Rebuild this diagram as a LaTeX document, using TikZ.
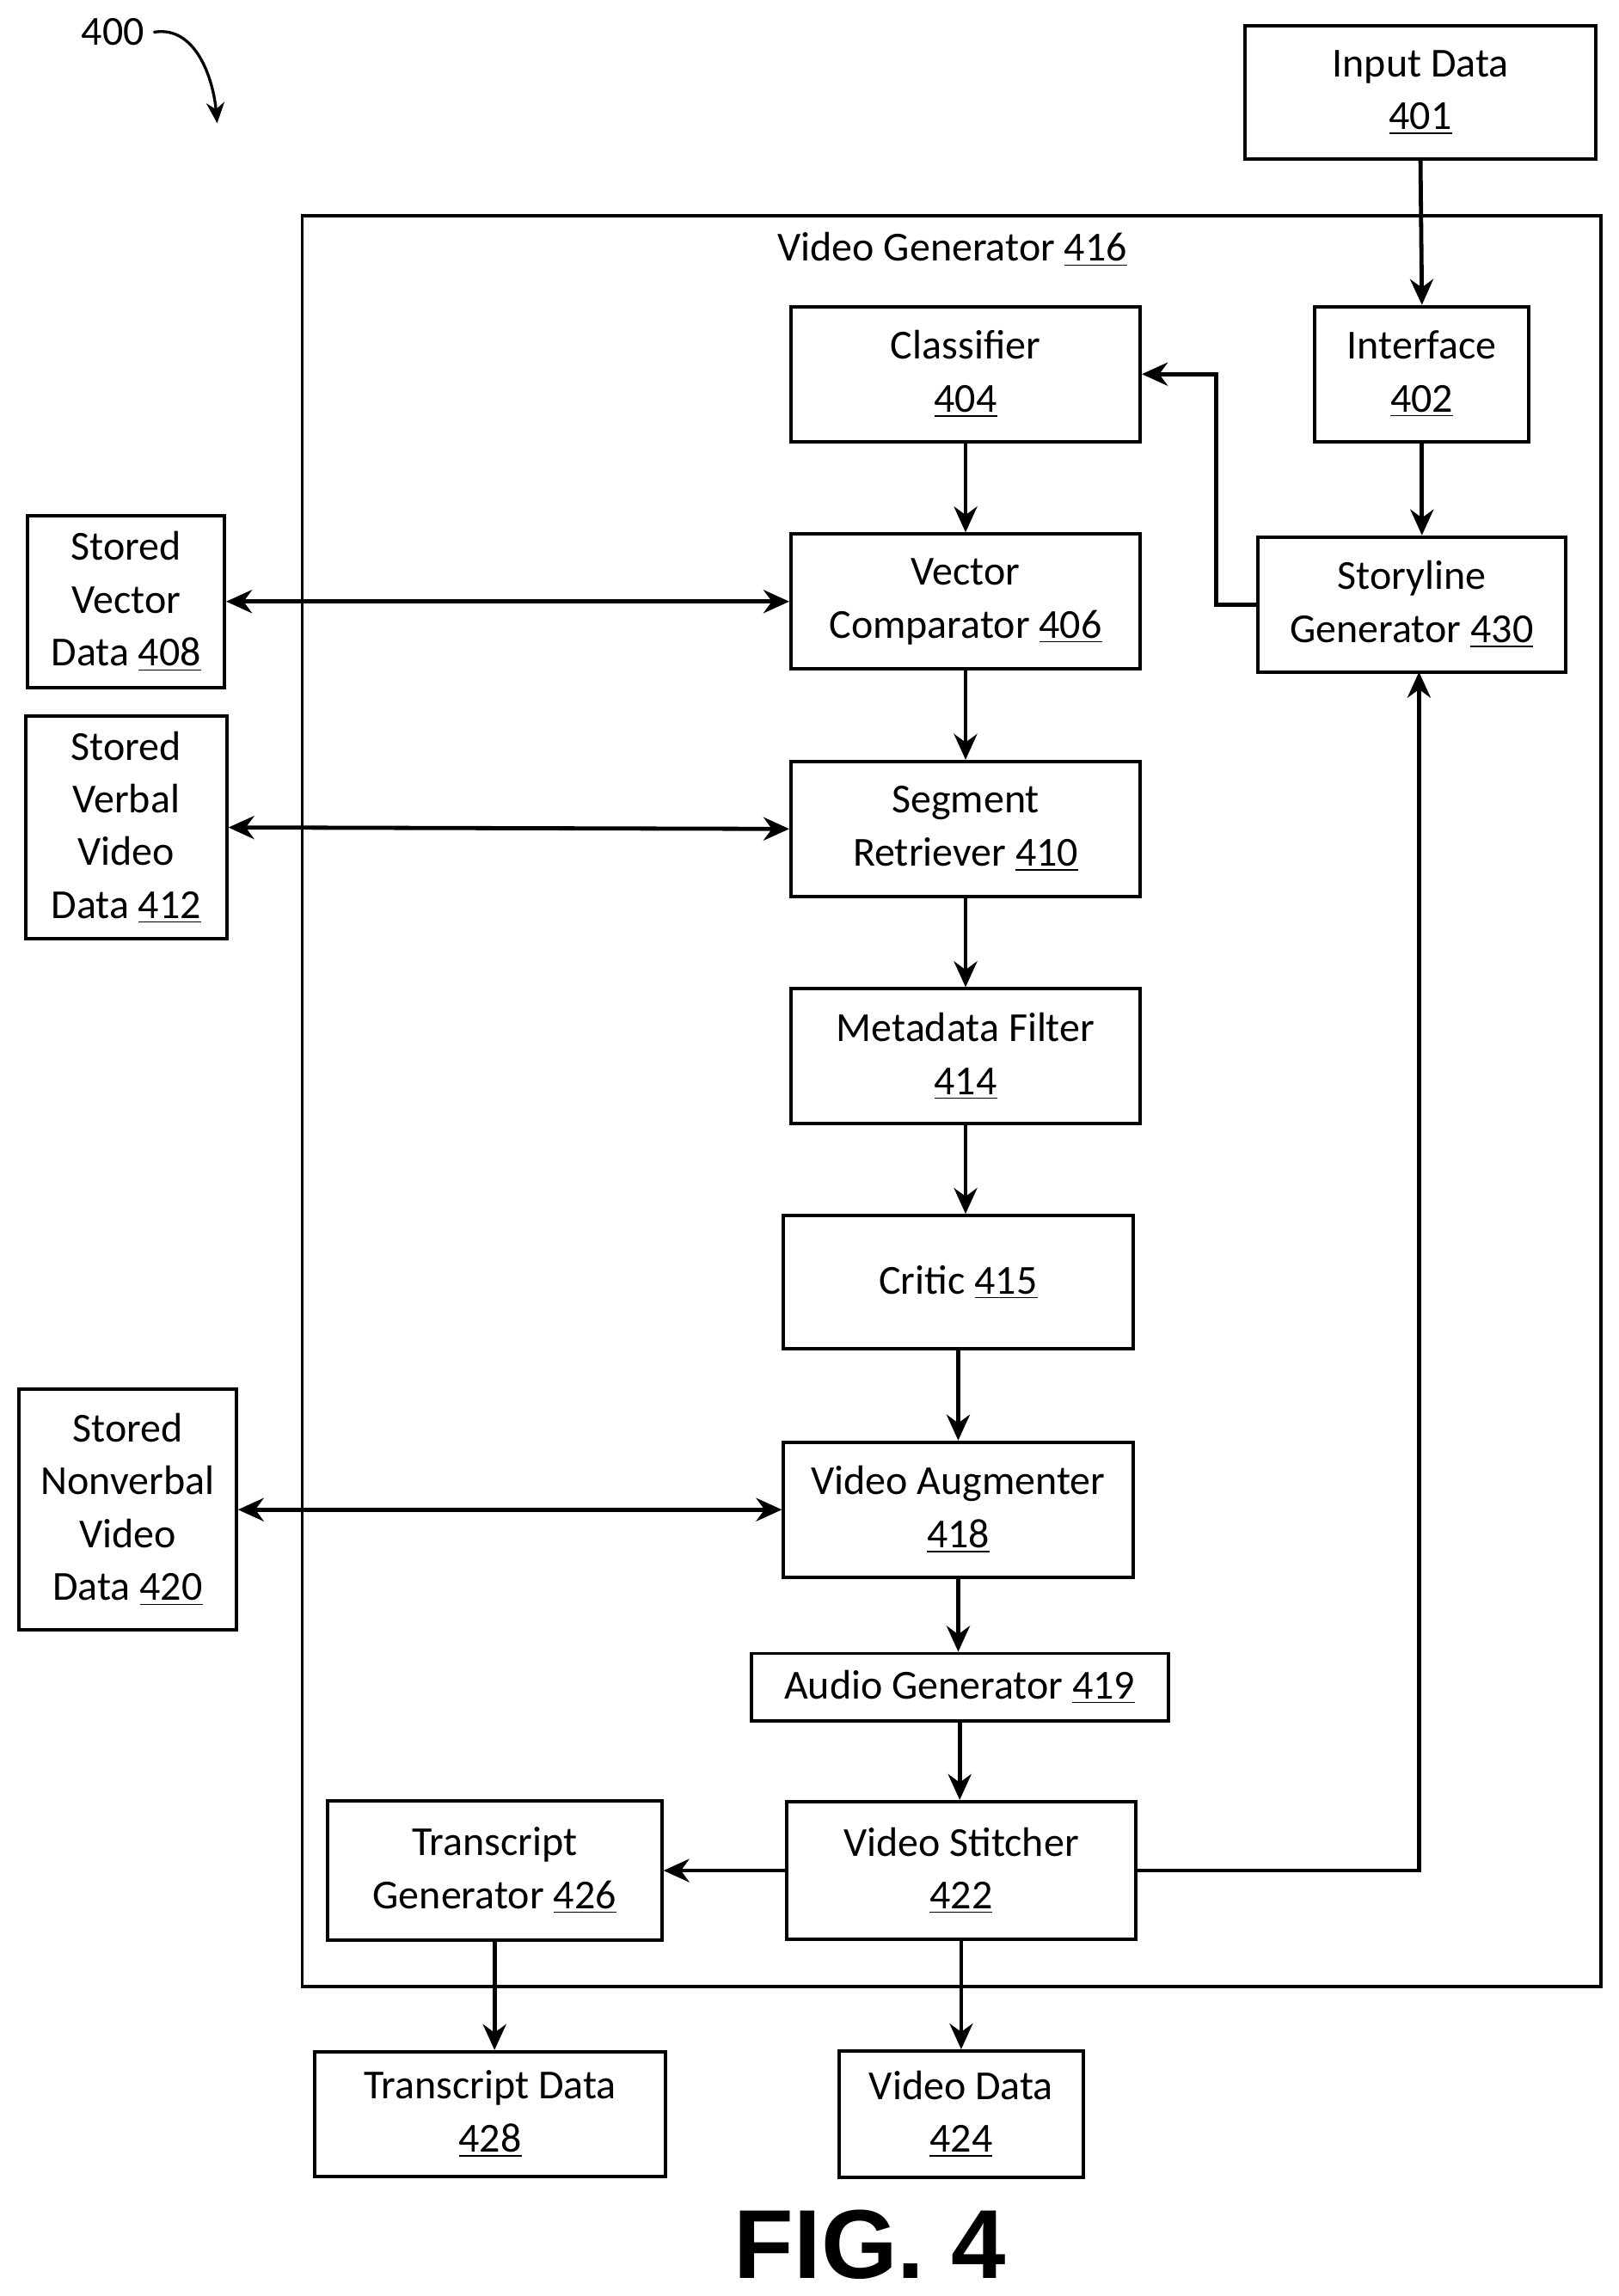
\documentclass[tikz,border=0pt]{standalone}
\usepackage{fontspec}
\setmainfont{Carlito}
\newfontfamily\figfont{Liberation Sans}
\usetikzlibrary{arrows.meta,calc}
\tikzset{
  -|-/.style={
    to path={
      (\tikztostart) -| ($(\tikztostart)!#1!(\tikztotarget)$) |- (\tikztotarget)
      \tikztonodes
    }
  },
  -|-/.default=0.5,
}
\begin{document}
\begin{tikzpicture}
  [
    x=0.02cm, y=-0.02cm,
    font=\fontsize{16}{20.5}\selectfont,
    block/.style =
      {draw, line width=1.3pt, rectangle, align=center, inner sep=0pt},
    link/.style =
      {line width=1.6pt, -{Stealth[length=10pt,width=9pt]}},
    dlink/.style =
      {line width=1.6pt, {Stealth[length=10pt,width=9pt]}-{Stealth[length=10pt,width=9pt]}}
  ]
  \useasboundingbox (0,0) rectangle (1103,1565);

  \draw[line width=1.1pt] (206,147) rectangle (1091,1354);
  \node at (649,170) (vg) {Video Generator \underline{416}};

  \node [block, minimum width=239*0.02cm, minimum height=91*0.02cm] at (968,63)  (in) {Input Data\\\underline{401}};
  \node [block, minimum width=238*0.02cm, minimum height=92*0.02cm] at (658,255) (cl) {Classifier\\\underline{404}};
  \node [block, minimum width=146*0.02cm, minimum height=92*0.02cm] at (969,255) (if) {Interface\\\underline{402}};
  \node [block, minimum width=210*0.02cm, minimum height=92*0.02cm] at (962,412) (sg) {Storyline\\Generator \underline{430}};
  \node [block, minimum width=238*0.02cm, minimum height=92*0.02cm] at (658,410) (vc) {Vector\\Comparator \underline{406}};
  \node [block, minimum width=134*0.02cm, minimum height=117*0.02cm] at (86,410)  (sv) {Stored\\Vector\\Data \underline{408}};
  \node [block, minimum width=238*0.02cm, minimum height=92*0.02cm] at (658,565) (sr) {Segment\\Retriever \underline{410}};
  \node [block, minimum width=137*0.02cm, minimum height=152*0.02cm] at (86,564)  (svv) {Stored\\Verbal\\Video\\Data \underline{412}};
  \node [block, minimum width=238*0.02cm, minimum height=92*0.02cm] at (658,720) (mf) {Metadata Filter\\\underline{414}};
  \node [block, minimum width=238*0.02cm, minimum height=91*0.02cm] at (653,874) (cr) {Critic \underline{415}};
  \node [block, minimum width=238*0.02cm, minimum height=92*0.02cm] at (653,1029) (va) {Video Augmenter\\\underline{418}};
  \node [block, minimum width=148*0.02cm, minimum height=164*0.02cm] at (87,1029) (snv) {Stored\\Nonverbal\\Video\\Data \underline{420}};
  \node [block, minimum width=284*0.02cm, minimum height=46*0.02cm] at (654,1150) (ag) {Audio Generator \underline{419}};
  \node [block, minimum width=238*0.02cm, minimum height=94*0.02cm] at (655,1275) (vs) {Video Stitcher\\\underline{422}};
  \node [block, minimum width=228*0.02cm, minimum height=95*0.02cm] at (337,1275) (tg) {Transcript\\Generator \underline{426}};
  \node [block, minimum width=239*0.02cm, minimum height=85*0.02cm] at (334,1441) (td) {Transcript Data\\\underline{428}};
  \node [block, minimum width=166*0.02cm, minimum height=86*0.02cm] at (655,1441) (vd) {Video Data\\\underline{424}};

  \node at (77,22) (num) {400};
  \node [font=\figfont\bfseries\fontsize{38}{42}\selectfont] at (593,1530) (fig) {FIG. 4};

  \draw[line width=1.1pt, -{Stealth[length=8pt,width=7pt]}] (num.east) to[out=10,in=95] (148,84);

  \draw[link] (in.south)  -- (if.north);
  \draw[link] (if.south)  -- (if.south |- sg.north);
  \draw[link] (sg.west)   -- (829,412) |- (cl.east);
  \draw[link] (cl.south)  -- (vc.north);
  \draw[dlink] (sv.east)  -- (vc.west);
  \draw[link] (vc.south)  -- (sr.north);
  \draw[dlink] (svv.east) -- (sr.west);
  \draw[link] (sr.south)  -- (mf.north);
  \draw[link] (mf.south)  -- (mf.south |- cr.north);
  \draw[link] (cr.south)  -- (va.north);
  \draw[dlink] (snv.east) -- (va.west);
  \draw[link] (va.south)  -- (va.south |- ag.north);
  \draw[link] (ag.south)  -- (ag.south |- vs.north);
  \draw[link] (vs.west)   -- (tg.east);
  \draw[link] (vs.east)   -| (967,458);
  \draw[link] (tg.south)  -- (tg.south |- td.north);
  \draw[link] (vs.south)  -- (vd.north);

\end{tikzpicture}
\end{document}
